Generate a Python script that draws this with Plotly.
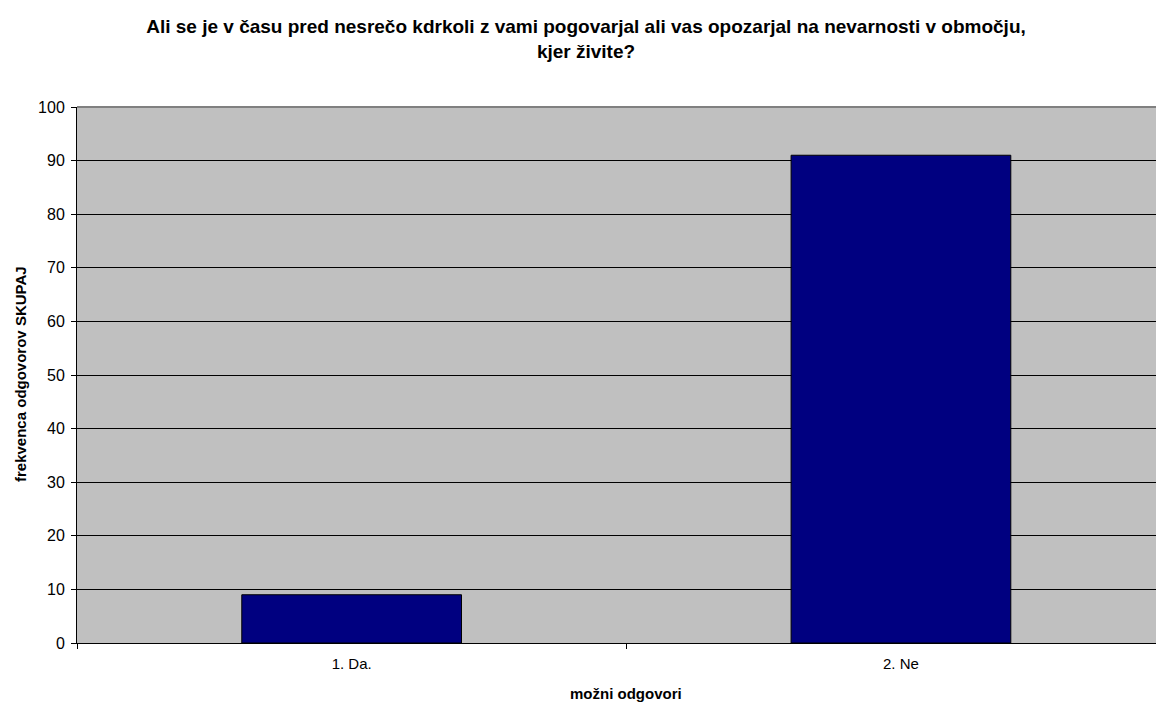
import plotly.graph_objects as go

categories = ["1. Da.", "2. Ne"]
values = [9, 91]
y_ticks = [0, 10, 20, 30, 40, 50, 60, 70, 80, 90, 100]

title_text = ("Ali se je v času pred nesrečo kdrkoli z vami pogovarjal ali vas opozarjal na nevarnosti v območju,"
              "<br>kjer živite?")
x_title = "možni odgovori"
y_title = "frekvenca odgovorov SKUPAJ"

FONT = "Liberation Sans, Arial, sans-serif"

W, H = 1156, 694          # page body adds an 8px margin
L, T, B = 69, 99, 59
PW, PH = W - L, H - T - B

fig = go.Figure()
fig.add_trace(go.Bar(
    x=categories, y=values, width=0.4,
    marker=dict(color="#000080", line=dict(color="#000000", width=1)),
))

fig.update_layout(
    width=W, height=H,
    margin=dict(l=L, r=0, t=T, b=B),
    paper_bgcolor="white", plot_bgcolor="#C0C0C0",
    showlegend=False,
    font=dict(family=FONT, size=15, color="black"),
    title=dict(text="<b>" + title_text + "</b>", x=0.5, xanchor="center",
               y=1 - 25 / H, yanchor="top", yref="container",
               font=dict(family=FONT, size=19)),
    xaxis=dict(range=[-0.5, -0.5 + PW / 549.3], tickson="boundaries", ticks="outside", ticklen=5,
               tickcolor="black", showline=True, linecolor="black", linewidth=1,
               showgrid=False, tickfont=dict(size=15), fixedrange=True,
               ticklabelstandoff=7),
    yaxis=dict(range=[0, 100], tickvals=y_ticks, ticks="outside", ticklen=5,
               tickcolor="black", showline=True, linecolor="black", linewidth=1,
               showgrid=True, gridcolor="black", gridwidth=1, zeroline=False,
               tickfont=dict(size=16), ticklabelstandoff=3),
    annotations=[
        dict(text="<b>" + x_title + "</b>", xref="paper", yref="paper",
             x=(626 - 77) / PW, y=-(693 - 643) / PH, xanchor="center", yanchor="middle",
             showarrow=False, font=dict(family=FONT, size=15)),
        dict(text="<b>" + y_title + "</b>", xref="paper", yref="paper",
             x=-(77 - 20) / PW, y=(643 - 374) / PH, xanchor="center", yanchor="middle",
             textangle=-90, showarrow=False, font=dict(family=FONT, size=15)),
    ],
)
fig.add_shape(type="line", xref="paper", yref="paper", x0=0, x1=1, y0=1, y1=1,
              line=dict(color="#808080", width=2))

fig.write_html("out.html")
